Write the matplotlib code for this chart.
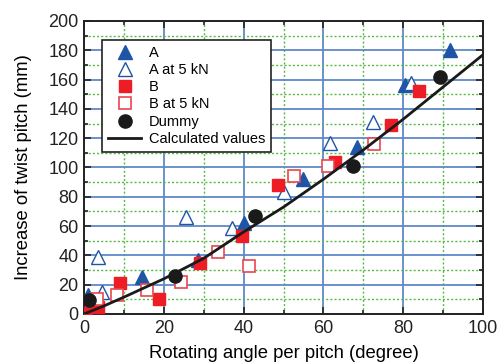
import matplotlib
matplotlib.use("Agg")
from matplotlib import pyplot as plt
from matplotlib.ticker import MultipleLocator

plt.rcParams['font.family'] = ['Liberation Sans', 'DejaVu Sans']

# Data
a_x = [1, 14.5, 28.5, 40, 55, 68.5, 80.5, 91.7]
a_y = [13, 25, 37, 62, 92, 114, 156, 180]

a5_x = [3.6, 4.4, 25.6, 37, 50, 61.7, 72.3, 81.9]
a5_y = [39, 15, 66, 59, 83, 117, 131, 158]

b_x = [0.5, 3.6, 9, 18.9, 29, 39.7, 48.7, 63, 77, 84]
b_y = [1, 5, 21, 10, 35, 53, 88, 104, 129, 152]

b5_x = [3.3, 8.2, 15.7, 24.3, 33.7, 41.4, 52.5, 61.2, 72.7]
b5_y = [10, 13, 16.4, 22, 42, 33, 94, 101, 116]

dummy_x = [1.3, 22.8, 42.9, 67.5, 89.2]
dummy_y = [9.6, 26, 67, 101, 162]

calc_x = [0, 5, 10, 20, 30, 40, 50, 60, 70, 80, 90, 100]
calc_y = [0, 5.5, 11.5, 24, 38, 56, 73, 92, 112, 133, 155, 177]

blue = '#1f55a6'
red = '#ee1c25'

fig = plt.figure(figsize=(4.97, 3.62), dpi=100)
ax = fig.add_axes([0.169, 0.1326, 0.803, 0.8094])

ax.plot(a_x, a_y, '^', ms=10.5, color=blue, mec=blue, label='A', zorder=3)
ax.plot(a5_x, a5_y, '^', ms=10.5, mfc='white', mec=blue, mew=1.0,
        label='A at 5 kN', zorder=3)
ax.plot(b_x, b_y, 's', ms=8.5, color=red, mec=red, label='B', zorder=3)
ax.plot(b5_x, b5_y, 's', ms=8.5, mfc='white', mec='#e8474f', mew=1.2,
        label='B at 5 kN', zorder=3)
ax.plot(dummy_x, dummy_y, 'o', ms=9.5, color='#1a1a1a', label='Dummy', zorder=3)
ax.plot(calc_x, calc_y, '-', color='#1a1a1a', lw=2, label='Calculated values',
        zorder=4)

ax.set_xlim(0, 100)
ax.set_ylim(0, 200)
ax.xaxis.set_major_locator(MultipleLocator(20))
ax.xaxis.set_minor_locator(MultipleLocator(10))
ax.yaxis.set_major_locator(MultipleLocator(20))
ax.yaxis.set_minor_locator(MultipleLocator(10))

# Grid: blue solid on majors, green dotted on minors
ax.grid(which='major', color='#5f89c9', lw=1.3, ls='-', zorder=0)
ax.grid(which='minor', color='#58b947', lw=1.0, ls=(0, (1.5, 1.5)), zorder=0)
ax.set_axisbelow(True)

ax.tick_params(which='both', direction='in', top=True, right=True,
               labelsize=13, width=1.2, colors='#222222')
ax.tick_params(which='major', length=5, pad=4)
ax.tick_params(which='minor', length=3)
for s in ax.spines.values():
    s.set_linewidth(1.4)
    s.set_color('#222222')

ax.set_xlabel('Rotating angle per pitch (degree)', fontsize=13.3, labelpad=6)
ax.set_ylabel('Increase of twist pitch (mm)', fontsize=13.3, labelpad=12)

leg = ax.legend(loc='upper left', bbox_to_anchor=(0.045, 0.935), fontsize=10.5,
                frameon=True, fancybox=False, framealpha=1, edgecolor='#222222',
                handlelength=2.3, borderpad=0.4, labelspacing=0.22,
                handletextpad=0.5, borderaxespad=0)
leg.get_frame().set_linewidth(1.2)

fig.savefig('out.png', dpi=100)
